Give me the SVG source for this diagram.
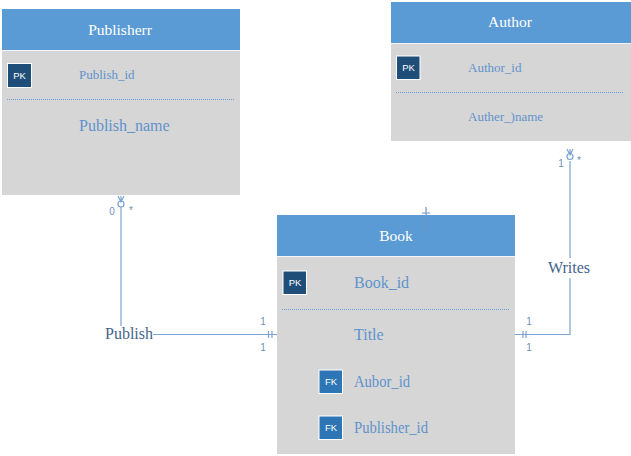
<svg xmlns="http://www.w3.org/2000/svg" width="631" height="456" viewBox="0 0 631 456">
<style>
text{font-family:"Liberation Serif",serif}
.body{fill:#d6d6d6}
.head{fill:#5b9bd5}
.sep{stroke:#f2f6fa;stroke-width:1;fill:none}
.title{fill:#fff;font-size:15.500px;text-anchor:middle}
.attr{fill:#5f93cc}
.s{font-size:13px}
.l{font-size:16px}
.pk{fill:#1f4e79;stroke:#fff;stroke-width:1}
.fk{fill:#2e75b6;stroke:#fff;stroke-width:1}
.badge{fill:#fff;font-family:"Liberation Sans",sans-serif;font-size:9.500px;text-anchor:middle}
.div{stroke:#6d9fd6;stroke-width:1;stroke-dasharray:1 1;fill:none}
.c{stroke:#7ba3d0;stroke-width:1.200;fill:none}
.n{fill:#6f8fb5;font-family:"Liberation Sans",sans-serif;font-size:10px;text-anchor:middle}
.rel{fill:#44648c;font-size:16px;text-anchor:middle}
</style>
<rect width="631" height="456" fill="#fff"/>
<g id="publisher">
<rect class="body" x="2" y="50" width="238" height="145"/>
<rect class="head" x="2" y="9" width="238" height="41"/>
<path class="sep" d="M2 50.500H240"/>
<text class="title" x="120" y="35">Publisherr</text>
<rect class="pk" x="7.500" y="63.500" width="24" height="24"/>
<text class="badge" x="19.500" y="79">PK</text>
<text class="attr s" x="79" y="79">Publish_id</text>
<path class="div" d="M7 99.500H235"/>
<text class="attr l" x="79" y="131">Publish_name</text>
</g>
<g id="author">
<rect class="body" x="391" y="43" width="240" height="98"/>
<rect class="head" x="391" y="2" width="240" height="41"/>
<path class="sep" d="M391 43.500H631"/>
<text class="title" x="510" y="27">Author</text>
<rect class="pk" x="396.500" y="56" width="23.500" height="23.500"/>
<text class="badge" x="408.500" y="71">PK</text>
<text class="attr s" x="468" y="72">Author_id</text>
<path class="div" d="M396 92.500H624"/>
<text class="attr s" x="468" y="121">Auther_)name</text>
</g>
<g id="book">
<rect class="body" x="277" y="256" width="238" height="198"/>
<rect class="head" x="277" y="215" width="238" height="41"/>
<path class="sep" d="M277 256.500H515"/>
<text class="title" x="396" y="241">Book</text>
<rect class="pk" x="283" y="271" width="23.500" height="23.500"/>
<text class="badge" x="295" y="286">PK</text>
<text class="attr l" x="354" y="288">Book_id</text>
<path class="div" d="M282 309.500H510"/>
<text class="attr l" x="354" y="340">Title</text>
<rect class="fk" x="319" y="370" width="23.500" height="23.500"/>
<text class="badge" x="331" y="385">FK</text>
<text class="attr l" x="354" y="387" textLength="56" lengthAdjust="spacingAndGlyphs">Aubor_id</text>
<rect class="fk" x="319" y="416" width="23.500" height="23.500"/>
<text class="badge" x="331" y="431">FK</text>
<text class="attr l" x="354" y="433" textLength="74" lengthAdjust="spacingAndGlyphs">Publisher_id</text>
</g>
<g id="connectors">
<path class="c" d="M121 207V326M153 334.500H277"/>
<path class="c" d="M118 196L121 202L124 196M121 196V202"/>
<circle class="c" cx="121" cy="204" r="3"/>
<path class="c" d="M268.500 331V338M272 331V338"/>
<path class="c" d="M515 334.500H570V161"/>
<path class="c" d="M567 149L570 155L573 149M570 149V155"/>
<circle class="c" cx="570" cy="156.500" r="3"/>
<path class="c" d="M523 331V338M526 331V338"/>
<path class="c" d="M426 207V232M422 213H430" style="stroke:#6f94c4"/>
<rect x="548" y="258" width="44" height="20" fill="#fff"/>
<text class="n" x="112" y="215">0</text>
<text class="n" x="131" y="214">*</text>
<text class="n" x="263" y="325">1</text>
<text class="n" x="263" y="351">1</text>
<text class="n" x="561" y="167">1</text>
<text class="n" x="579" y="164">*</text>
<text class="n" x="529" y="325">1</text>
<text class="n" x="529" y="351">1</text>
<text class="rel" x="129" y="339">Publish</text>
<text class="rel" x="569" y="273">Writes</text>
</g>
</svg>
